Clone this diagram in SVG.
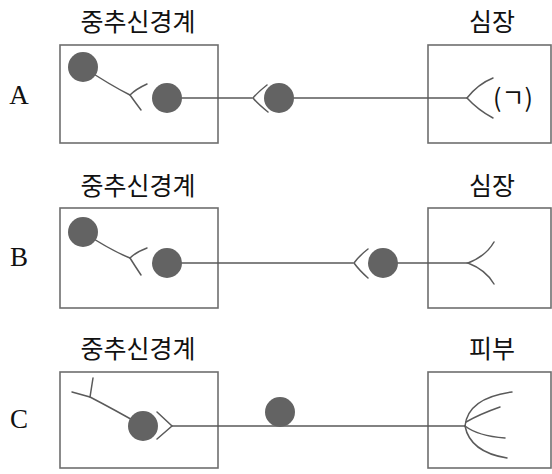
<svg xmlns="http://www.w3.org/2000/svg" width="552" height="474" viewBox="0 0 552 474">
<style>
.box{fill:none;stroke:#6e6e6e;stroke-width:1.6}
.ln{fill:none;stroke:#5a5a5a;stroke-width:1.5;stroke-linecap:round}
.cb{fill:#636363}
.kr{font-family:"Noto Sans CJK KR","Noto Sans",sans-serif;font-size:25px;fill:#111;text-anchor:middle}
.lt{font-family:"Liberation Serif",serif;font-size:27px;fill:#111;text-anchor:middle}
.mk{font-family:"Noto Sans CJK KR","Noto Sans",sans-serif;font-size:25px;fill:#111}
</style>
<rect width="552" height="474" fill="#fff"/>

<!-- Row A -->
<g id="rowA-labels">
<text class="lt" x="19" y="104">A</text>
<text class="kr" x="138" y="31">중추신경계</text>
<text class="kr" x="492" y="31">심장</text>
</g>
<g id="A-cns"><rect class="box" x="60" y="45" width="158" height="98"/></g>
<g id="A-heart"><rect class="box" x="428" y="45" width="123" height="98"/></g>
<g id="A-connectors">
<path class="ln" d="M83 67 Q110 85 130 95"/>
<path class="ln" d="M147 84 Q136 89 130 95 Q135 102 141 110"/>
<path class="ln" d="M167 98 H252"/>
<path class="ln" d="M267 85 Q258 92 253 98 Q258 104 268 112"/>
<path class="ln" d="M279 98 H467"/>
<path class="ln" d="M493 78 Q478 84 467 98 Q478 110 493 118"/>
</g>
<g id="A-neurons">
<circle class="cb" cx="83" cy="67" r="15"/>
<circle class="cb" cx="167" cy="98" r="15"/>
<circle class="cb" cx="279" cy="98" r="15"/>
</g>
<text class="mk" x="493" y="107">(ㄱ)</text>

<!-- Row B -->
<g id="rowB-labels">
<text class="lt" x="19" y="266">B</text>
<text class="kr" x="138" y="195">중추신경계</text>
<text class="kr" x="492" y="195">심장</text>
</g>
<g id="B-cns"><rect class="box" x="60" y="208" width="158" height="100"/></g>
<g id="B-heart"><rect class="box" x="428" y="208" width="123" height="100"/></g>
<g id="B-connectors">
<path class="ln" d="M83 232 Q110 250 130 258"/>
<path class="ln" d="M147 248 Q136 252 130 258 Q135 266 141 275"/>
<path class="ln" d="M167 263 H353"/>
<path class="ln" d="M368 249 Q359 256 354 263 Q359 270 368 278"/>
<path class="ln" d="M383 263 H468"/>
<path class="ln" d="M494 242 Q486 256 468 263 Q486 270 494 284"/>
</g>
<g id="B-neurons">
<circle class="cb" cx="83" cy="232" r="15"/>
<circle class="cb" cx="167" cy="263" r="15"/>
<circle class="cb" cx="383" cy="263" r="15"/>
</g>

<!-- Row C -->
<g id="rowC-labels">
<text class="lt" x="19" y="428">C</text>
<text class="kr" x="138" y="358">중추신경계</text>
<text class="kr" x="492" y="358">피부</text>
</g>
<g id="C-cns"><rect class="box" x="60" y="372" width="158" height="96"/></g>
<g id="C-skin"><rect class="box" x="428" y="372" width="123" height="96"/></g>
<g id="C-connectors">
<path class="ln" d="M93 378 L90 397 L72 392"/>
<path class="ln" d="M90 397 Q115 410 143 426"/>
<path class="ln" d="M157 412 L172 426 L157 439"/>
<path class="ln" d="M172 426 H465"/>
<path class="ln" d="M465 426 Q468 398 512 392"/>
<path class="ln" d="M466 422 Q480 414 500 407"/>
<path class="ln" d="M465 426 Q478 436 505 438"/>
<path class="ln" d="M465 426 Q470 452 507 458"/>
</g>
<g id="C-neurons">
<circle class="cb" cx="143" cy="426" r="15"/>
<circle class="cb" cx="280" cy="412" r="15"/>
</g>
</svg>
